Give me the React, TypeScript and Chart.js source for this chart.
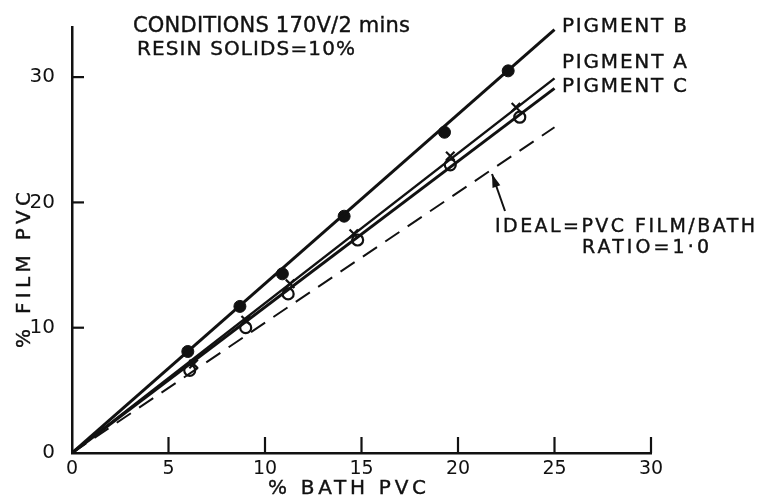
import React, { useEffect, useRef } from "react";
import { Chart, registerables } from "chart.js";

Chart.register(...registerables);

// ---- data ----
const bathB = [6.0, 8.7, 10.9, 14.1, 19.3, 22.6];
const filmB = [8.1, 11.7, 14.3, 18.9, 25.6, 30.5];
const bathA = [6.3, 9.0, 11.3, 14.6, 19.6, 23.0];
const filmA = [7.1, 10.6, 13.5, 17.5, 23.7, 27.6];
const bathC = [6.1, 9.0, 11.2, 14.8, 19.6, 23.2];
const filmC = [6.6, 10.0, 12.7, 17.0, 23.0, 26.8];
// fitted lines: start and end (bath %, film %)
const lineB = [[0, 0], [25, 33.8]];
const lineA = [[0, 0], [25, 29.9]];
const lineC = [[0, 0], [25, 29.1]];
const lineIdeal = [[0, 0], [25, 26.0]];
const xTicks = [0, 5, 10, 15, 20, 25, 30];
const yTicks = [0, 10, 20, 30];

const FONT = "'DejaVu Sans', sans-serif";
const INK = "#111";

const toPts = (xs: number[], ys: number[]) => xs.map((x, i) => ({ x, y: ys[i] }));
const linePts = (l: number[][]) => l.map(([x, y]) => ({ x, y }));

function fitText(ctx: CanvasRenderingContext2D, text: string, x: number, y: number, width: number, size: number) {
  ctx.save();
  ctx.font = `${size}px ${FONT}`;
  (ctx as any).letterSpacing = "0px";
  const w = ctx.measureText(text).width;
  const sp = Math.max(0, (width - w) / Math.max(1, text.length - 1));
  (ctx as any).letterSpacing = `${sp}px`;
  ctx.fillStyle = INK;
  ctx.strokeStyle = INK;
  ctx.lineWidth = 0.4;
  ctx.textBaseline = "alphabetic";
  ctx.textAlign = "left";
  ctx.fillText(text, x, y);
  ctx.strokeText(text, x, y);
  ctx.restore();
}

const annotations = {
  id: "annotations",
  afterDraw(chart: any) {
    const ctx: CanvasRenderingContext2D = chart.ctx;
    const xs = chart.scales.x;
    const ys = chart.scales.y;
    const area = chart.chartArea;
    ctx.save();
    ctx.strokeStyle = INK;
    ctx.lineWidth = 2.2;
    // inward ticks
    xTicks.filter((v) => v > 0).forEach((v) => {
      const px = xs.getPixelForValue(v);
      ctx.beginPath();
      ctx.moveTo(px, area.bottom);
      ctx.lineTo(px, area.bottom - 16);
      ctx.stroke();
    });
    yTicks.filter((v) => v > 0).forEach((v) => {
      const py = ys.getPixelForValue(v);
      ctx.beginPath();
      ctx.moveTo(area.left, py);
      ctx.lineTo(area.left + 12, py);
      ctx.stroke();
    });
    // arrow pointing to ideal line
    const tx = 492, ty = 174, sx = 505, sy = 211;
    ctx.lineWidth = 2;
    ctx.beginPath();
    ctx.moveTo(sx, sy);
    ctx.lineTo(tx, ty);
    ctx.stroke();
    const ang = Math.atan2(ty - sy, tx - sx);
    ctx.fillStyle = INK;
    ctx.beginPath();
    ctx.moveTo(tx, ty);
    ctx.lineTo(tx - 14 * Math.cos(ang - 0.3), ty - 14 * Math.sin(ang - 0.3));
    ctx.lineTo(tx - 14 * Math.cos(ang + 0.3), ty - 14 * Math.sin(ang + 0.3));
    ctx.closePath();
    ctx.fill();
    ctx.restore();

    fitText(ctx, "CONDITIONS 170V/2 mins", 133, 32, 277, 21);
    fitText(ctx, "RESIN SOLIDS=10%", 137, 55, 218, 20);
    fitText(ctx, "PIGMENT B", 562, 32, 125, 20);
    fitText(ctx, "PIGMENT A", 562, 68, 125, 20);
    fitText(ctx, "PIGMENT C", 562, 92, 125, 20);
    fitText(ctx, "IDEAL=PVC FILM/BATH", 495, 232, 260, 19);
    fitText(ctx, "RATIO=1·0", 582, 253, 127, 19);
    fitText(ctx, "% BATH PVC", 268, 494, 158, 20);

    ctx.save();
    ctx.translate(30, 348);
    ctx.rotate(-Math.PI / 2);
    fitText(ctx, "% FILM PVC", 0, 0, 156, 20);
    ctx.restore();
  },
};

export default function App() {
  const ref = useRef<HTMLCanvasElement | null>(null);
  useEffect(() => {
    if (!ref.current) return;
    const chart = new Chart(ref.current, {
      type: "scatter",
      data: {
        datasets: [
          { data: linePts(lineIdeal), showLine: true, borderColor: INK, borderWidth: 2, borderDash: [17, 10], pointRadius: 0 },
          { data: linePts(lineB), showLine: true, borderColor: INK, borderWidth: 3, pointRadius: 0 },
          { data: linePts(lineA), showLine: true, borderColor: INK, borderWidth: 2.5, pointRadius: 0 },
          { data: linePts(lineC), showLine: true, borderColor: INK, borderWidth: 3, pointRadius: 0 },
          { data: toPts(bathB, filmB), pointStyle: "circle", pointRadius: 6, backgroundColor: INK, borderColor: INK, borderWidth: 1 },
          { data: toPts(bathA, filmA), pointStyle: "crossRot", pointRadius: 6, borderColor: INK, borderWidth: 2.2, backgroundColor: INK },
          { data: toPts(bathC, filmC), pointStyle: "circle", pointRadius: 5.5, backgroundColor: "#fff", borderColor: INK, borderWidth: 2.2 },
        ],
      },
      options: {
        animation: false,
        responsive: true,
        maintainAspectRatio: false,
        layout: { padding: { top: 27, right: 106, left: 0, bottom: 0 } },
        plugins: { legend: { display: false }, tooltip: { enabled: false } },
        scales: {
          x: {
            type: "linear",
            min: 0,
            max: 30,
            afterFit: (s: any) => { s.height = 43; },
            afterBuildTicks: (s: any) => { s.ticks = xTicks.map((v) => ({ value: v })); },
            grid: { display: false },
            border: { display: true, color: INK, width: 2.5 },
            ticks: { color: INK, font: { family: FONT, size: 19 }, padding: -3, maxRotation: 0, autoSkip: false },
          },
          y: {
            type: "linear",
            min: 0,
            max: 34,
            afterFit: (s: any) => { s.width = 72; },
            afterBuildTicks: (s: any) => { s.ticks = yTicks.map((v) => ({ value: v })); },
            grid: { display: false },
            border: { display: true, color: INK, width: 2.5 },
            ticks: { color: INK, font: { family: FONT, size: 20 }, padding: 9, autoSkip: false },
          },
        },
      },
      plugins: [annotations],
    });
    return () => chart.destroy();
  }, []);
  return (
    <div style={{ position: "absolute", left: 0, top: 0, width: 757, height: 496, background: "#fff" }}>
      <canvas ref={ref} />
    </div>
  );
}
